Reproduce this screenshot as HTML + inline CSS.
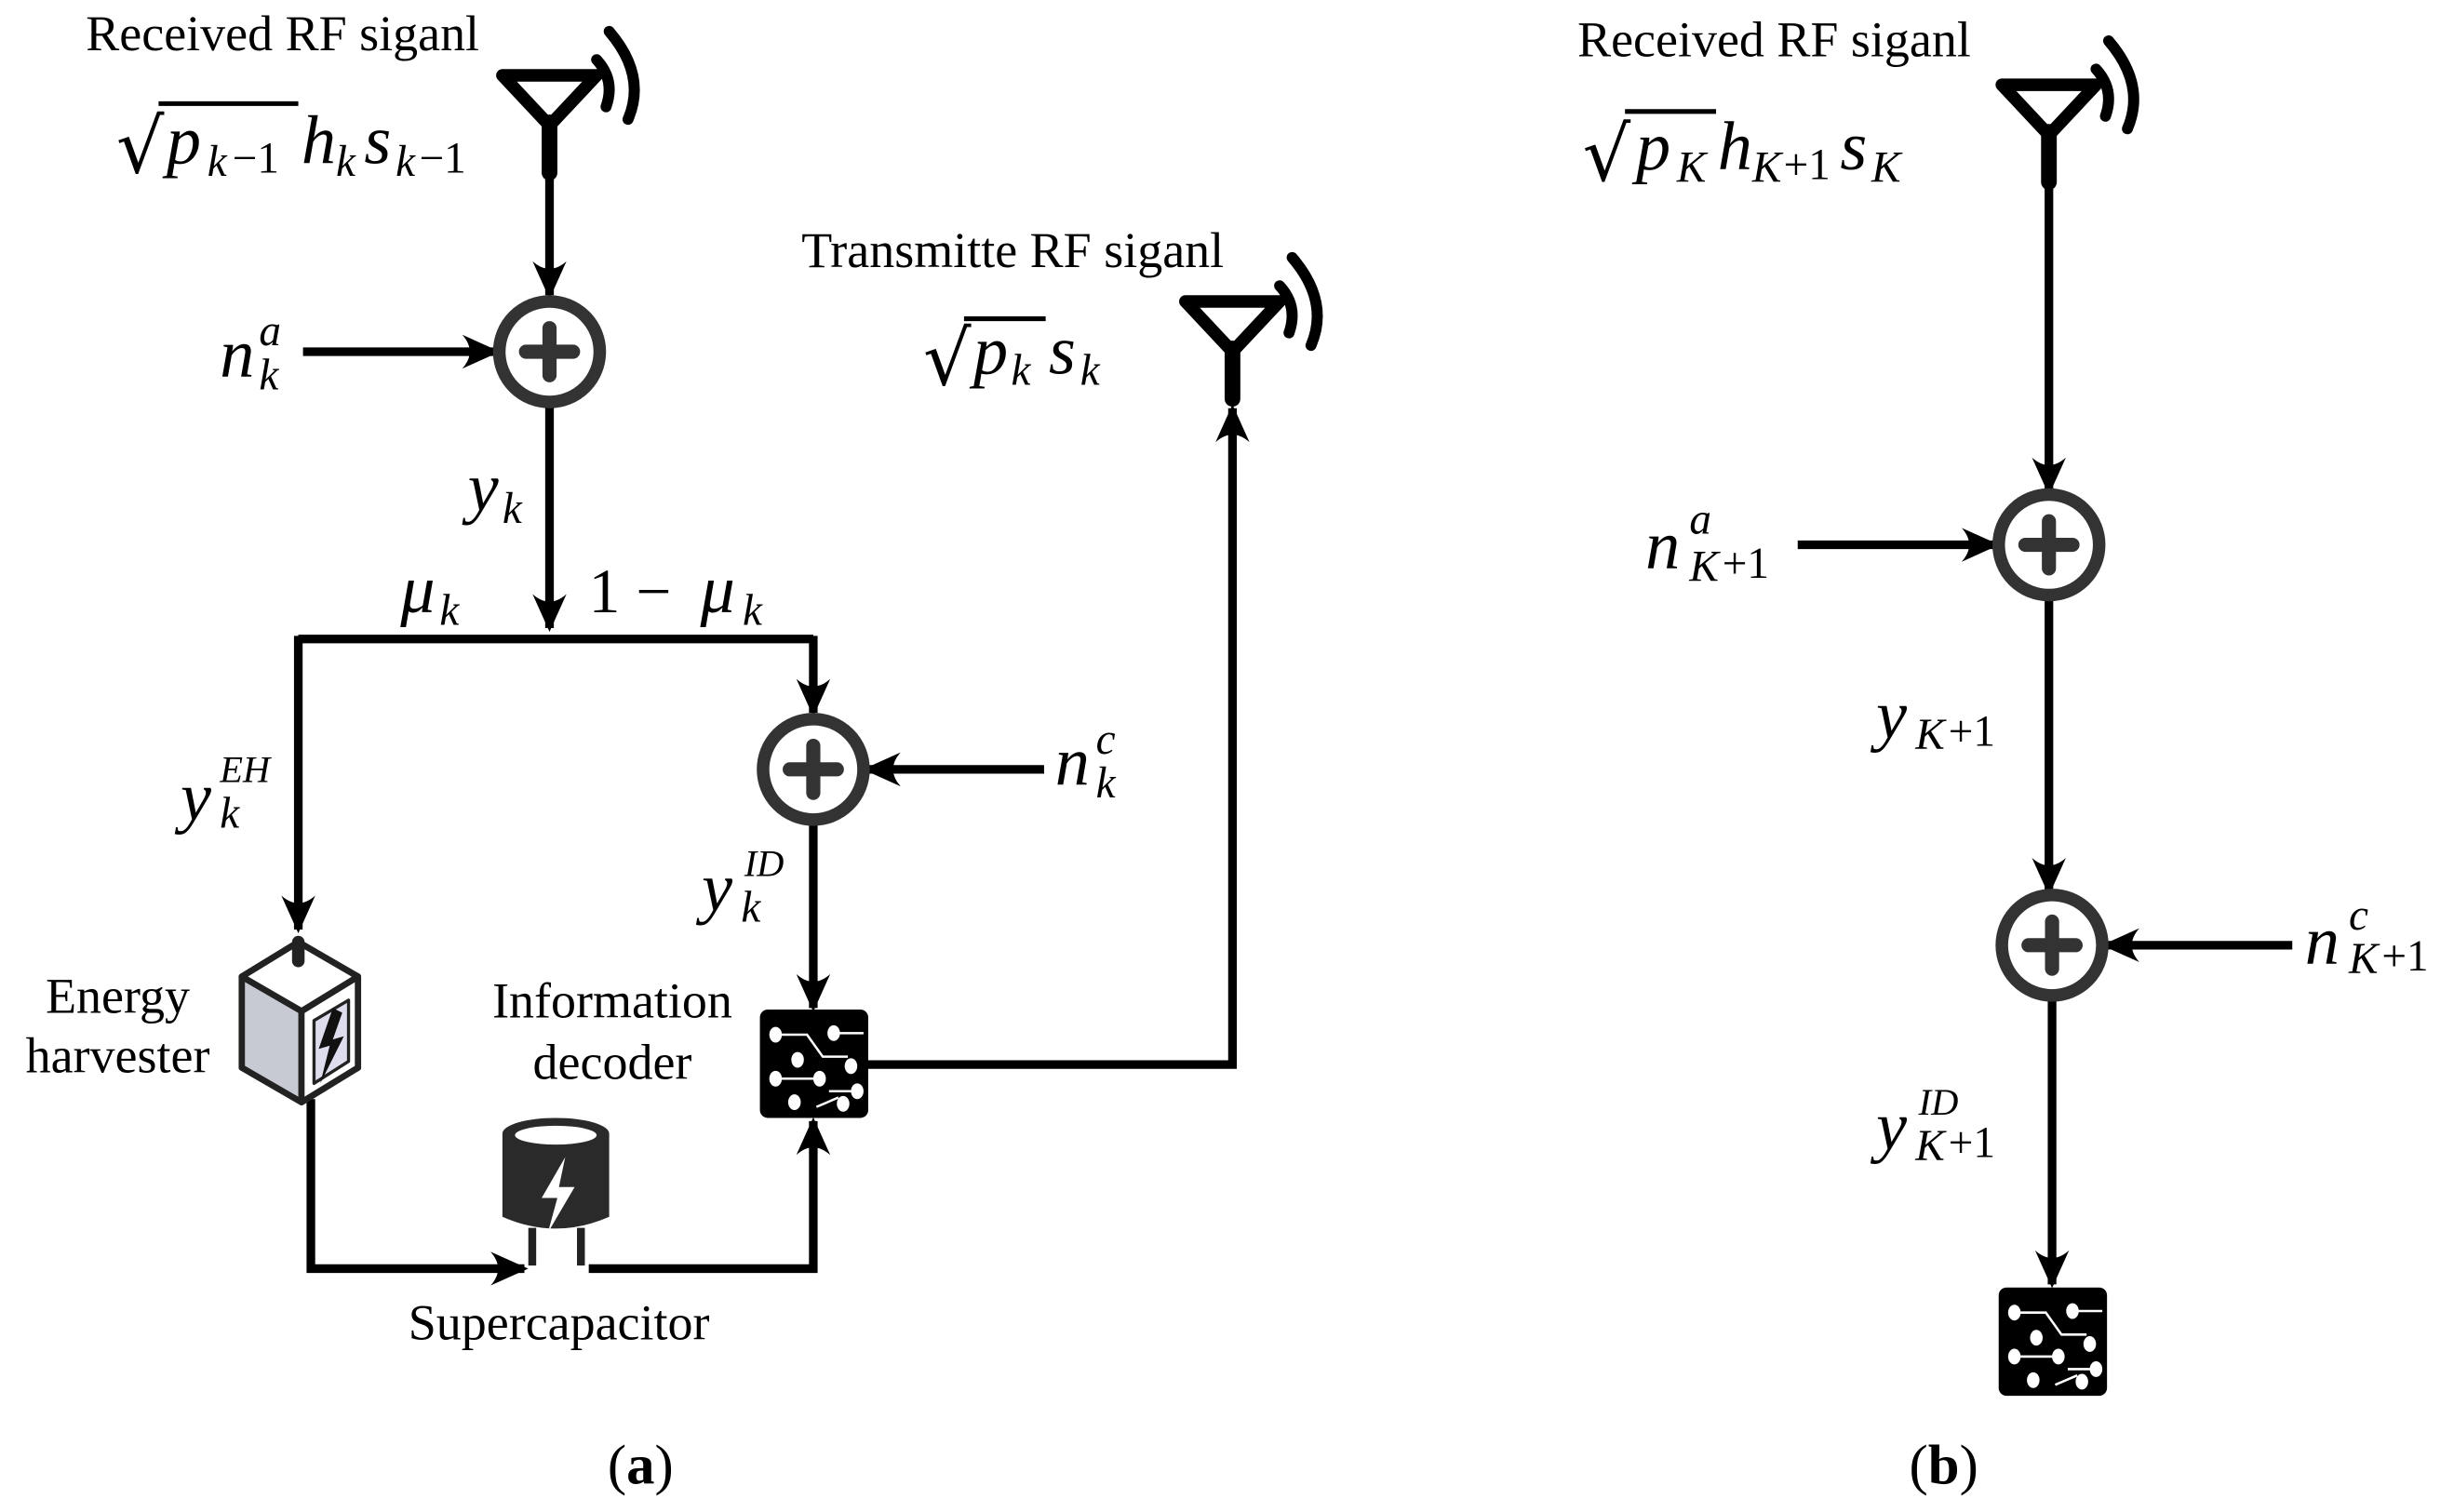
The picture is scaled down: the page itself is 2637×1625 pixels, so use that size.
<!DOCTYPE html>
<html><head><meta charset="utf-8"><style>
html,body{margin:0;padding:0;background:#fff;}
svg{display:block;}
text{font-family:"Liberation Serif",serif;fill:#000;}
.m{font-style:italic;font-size:44px;font-family:"Liberation Serif",serif;}
.s{font-style:italic;font-size:28px;font-family:"Liberation Serif",serif;}
.n{font-size:28px;font-family:"Liberation Serif",serif;}
.r{font-size:48px;font-family:"DejaVu Sans",sans-serif;}
.l{font-size:32px;}
</style></head><body>
<svg width="2637" height="1625" viewBox="0 0 1563 963" preserveAspectRatio="none" xmlns="http://www.w3.org/2000/svg">
<defs>
<marker id="a" viewBox="0 0 20 20" refX="18" refY="10" markerWidth="24" markerHeight="24" markerUnits="userSpaceOnUse" orient="auto">
<path d="M0,1 Q8,10 0,19 L20,10 Z" fill="#000"/></marker>
<g id="sum"><circle r="32" fill="#fff" stroke="#333" stroke-width="8"/><path d="M-15,0H15M0,-15V15" stroke="#333" stroke-width="9" stroke-linecap="round"/></g>
<g id="ant"><path d="M-30,0H30L0,32Z" fill="none" stroke="#000" stroke-width="8" stroke-linejoin="round"/><path d="M0,30V62" stroke="#000" stroke-width="10" stroke-linecap="round"/>
<path d="M30,-10 Q42,3 36,20" fill="none" stroke="#000" stroke-width="7" stroke-linecap="round"/><path d="M38,-28 Q62,0 50,28" fill="none" stroke="#000" stroke-width="7" stroke-linecap="round"/></g>
<g id="chip"><rect x="0" y="0" width="69" height="69" rx="5" fill="#000"/>
<g fill="#fff"><ellipse cx="10" cy="16" rx="4" ry="5"/><ellipse cx="47" cy="15" rx="4" ry="5"/><ellipse cx="24" cy="32" rx="4" ry="5"/><ellipse cx="58" cy="36" rx="4" ry="5"/><ellipse cx="10" cy="44" rx="4" ry="5"/><ellipse cx="38" cy="44" rx="4" ry="5"/><ellipse cx="62" cy="52" rx="4" ry="5"/><ellipse cx="22" cy="59" rx="4" ry="5"/><ellipse cx="53" cy="60" rx="4" ry="5"/></g>
<path d="M12,16H30L40,30H56M12,44H36M44,52H60M36,62L50,56M50,15H66" stroke="#fff" stroke-width="1.5" fill="none"/></g>
</defs>
<g stroke="#000" stroke-width="5.5" fill="none">
<path d="M350,110V188" marker-end="url(#a)"/>
<path d="M193,224H316" marker-end="url(#a)"/>
<path d="M350,258V400" marker-end="url(#a)"/>
<path d="M190,407H518"/>
<path d="M190,405V592" marker-end="url(#a)"/>
<path d="M518,405V454" marker-end="url(#a)"/>
<path d="M665,490H552" marker-end="url(#a)"/>
<path d="M518,525V642" marker-end="url(#a)"/>
<path d="M552,678H785V260" marker-end="url(#a)"/>
<path d="M198,700V808H334" marker-end="url(#a)"/>
<path d="M375,808H518V714" marker-end="url(#a)"/>
<path d="M1305,118V313" marker-end="url(#a)"/>
<path d="M1145,347H1271" marker-end="url(#a)"/>
<path d="M1305,382V568" marker-end="url(#a)"/>
<path d="M1460,602H1341" marker-end="url(#a)"/>
<path d="M1307,637V818" marker-end="url(#a)"/>
</g>
<use href="#sum" x="350" y="224"/><use href="#sum" x="518" y="490"/>
<use href="#sum" x="1305" y="347"/><use href="#sum" x="1307" y="602"/>
<use href="#ant" x="350" y="48"/><use href="#ant" x="785" y="192"/><use href="#ant" x="1305" y="54"/>
<use href="#chip" x="484" y="643"/><use href="#chip" x="1273" y="820"/>
<g stroke="#222" stroke-width="4" stroke-linejoin="round">
<path d="M154,622L190,600L228,622V680L192,702L154,680Z" fill="#c8cad3"/>
<path d="M192,644L228,622V680L192,702Z" fill="#fff"/>
<path d="M154,622L190,600L228,622L192,644Z" fill="#fff"/>
<path d="M200,650L222,637V676L200,690Z" fill="#dde" stroke-width="2"/>
<path d="M212,642L203,668L210,666L204,690L219,660L212,662L218,645Z" fill="#111" stroke="none"/>
</g>
<path d="M190,600V612" stroke="#222" stroke-width="8" stroke-linecap="round"/>
<path d="M320,722V775Q354,790 388,775V722Z" fill="#2a2a2a"/>
<ellipse cx="354" cy="722" rx="34" ry="10" fill="#2a2a2a"/>
<ellipse cx="354" cy="723" rx="26" ry="6" fill="#fff"/>
<path d="M360,737L345,763L355,763L349,785L366,756L356,756Z" fill="#fff"/>
<path d="M339,782V806M370,782V806" stroke="#222" stroke-width="5"/>
<text class="l" x="180" y="32" text-anchor="middle">Received RF siganl</text>
<text class="r" x="74" y="110">√</text><path d="M101,66H190" stroke="#000" stroke-width="3"/>
<text class="m" x="106" y="104">p</text><text class="s" x="132" y="112">k</text><text class="n" x="148" y="110">−1</text>
<text class="m" x="192" y="104">h</text><text class="s" x="214" y="112">k</text>
<text class="m" x="232" y="104">s</text><text class="s" x="252" y="112">k</text><text class="n" x="267" y="110">−1</text>
<text class="m" x="140" y="240">n</text><text class="s" x="165" y="220">a</text><text class="s" x="165" y="248">k</text>
<text class="m" x="298" y="325">y</text><text class="s" x="320" y="333">k</text>
<text class="m" x="255" y="390">μ</text><text class="s" x="280" y="398">k</text>
<text x="375" y="390" style="font-size:40px">1 −</text><text class="m" x="446" y="390">μ</text><text class="s" x="473" y="398">k</text>
<text class="m" x="115" y="522">y</text><text class="s" x="140" y="527">k</text><text class="s" x="140" y="498" style="font-size:24px">EH</text>
<text class="m" x="672" y="500">n</text><text class="s" x="698" y="480">c</text><text class="s" x="698" y="508">k</text>
<text class="m" x="447" y="580">y</text><text class="s" x="472" y="587">k</text><text class="s" x="474" y="558" style="font-size:24px">ID</text>
<text class="l" x="390" y="648" text-anchor="middle">Information</text>
<text class="l" x="390" y="687" text-anchor="middle">decoder</text>
<text class="l" x="75" y="645" text-anchor="middle">Energy</text>
<text class="l" x="75" y="683" text-anchor="middle">harvester</text>
<text class="l" x="356" y="853" text-anchor="middle">Supercapacitor</text>
<text class="l" x="645" y="170" text-anchor="middle">Transmitte RF siganl</text>
<text class="r" x="588" y="245">√</text><path d="M614,203H666" stroke="#000" stroke-width="3"/>
<text class="m" x="620" y="238">p</text><text class="s" x="644" y="245">k</text><text class="m" x="668" y="238">s</text><text class="s" x="688" y="245">k</text>
<text x="408" y="945" text-anchor="middle" style="font-size:36px">(<tspan font-weight="bold">a</tspan>)</text>
<text class="l" x="1130" y="36" text-anchor="middle">Received RF siganl</text>
<text class="r" x="1008" y="115">√</text><path d="M1035,71H1093" stroke="#000" stroke-width="3"/>
<text class="m" x="1042" y="108">p</text><text class="s" x="1068" y="116">K</text>
<text class="m" x="1094" y="108">h</text><text class="s" x="1116" y="116">K</text><text class="n" x="1136" y="114">+1</text>
<text class="m" x="1172" y="108">s</text><text class="s" x="1192" y="116">K</text>
<text class="m" x="1048" y="362">n</text><text class="s" x="1076" y="340">a</text><text class="s" x="1076" y="370">K</text><text class="n" x="1097" y="368">+1</text>
<text class="m" x="1195" y="470">y</text><text class="s" x="1220" y="477">K</text><text class="n" x="1241" y="475">+1</text>
<text class="m" x="1468" y="614">n</text><text class="s" x="1496" y="592">c</text><text class="s" x="1496" y="620">K</text><text class="n" x="1517" y="618">+1</text>
<text class="m" x="1195" y="732">y</text><text class="s" x="1220" y="739">K</text><text class="n" x="1241" y="737">+1</text><text class="s" x="1222" y="710" style="font-size:24px">ID</text>
<text x="1238" y="945" text-anchor="middle" style="font-size:36px">(<tspan font-weight="bold">b</tspan>)</text>
</svg>
</body></html>
